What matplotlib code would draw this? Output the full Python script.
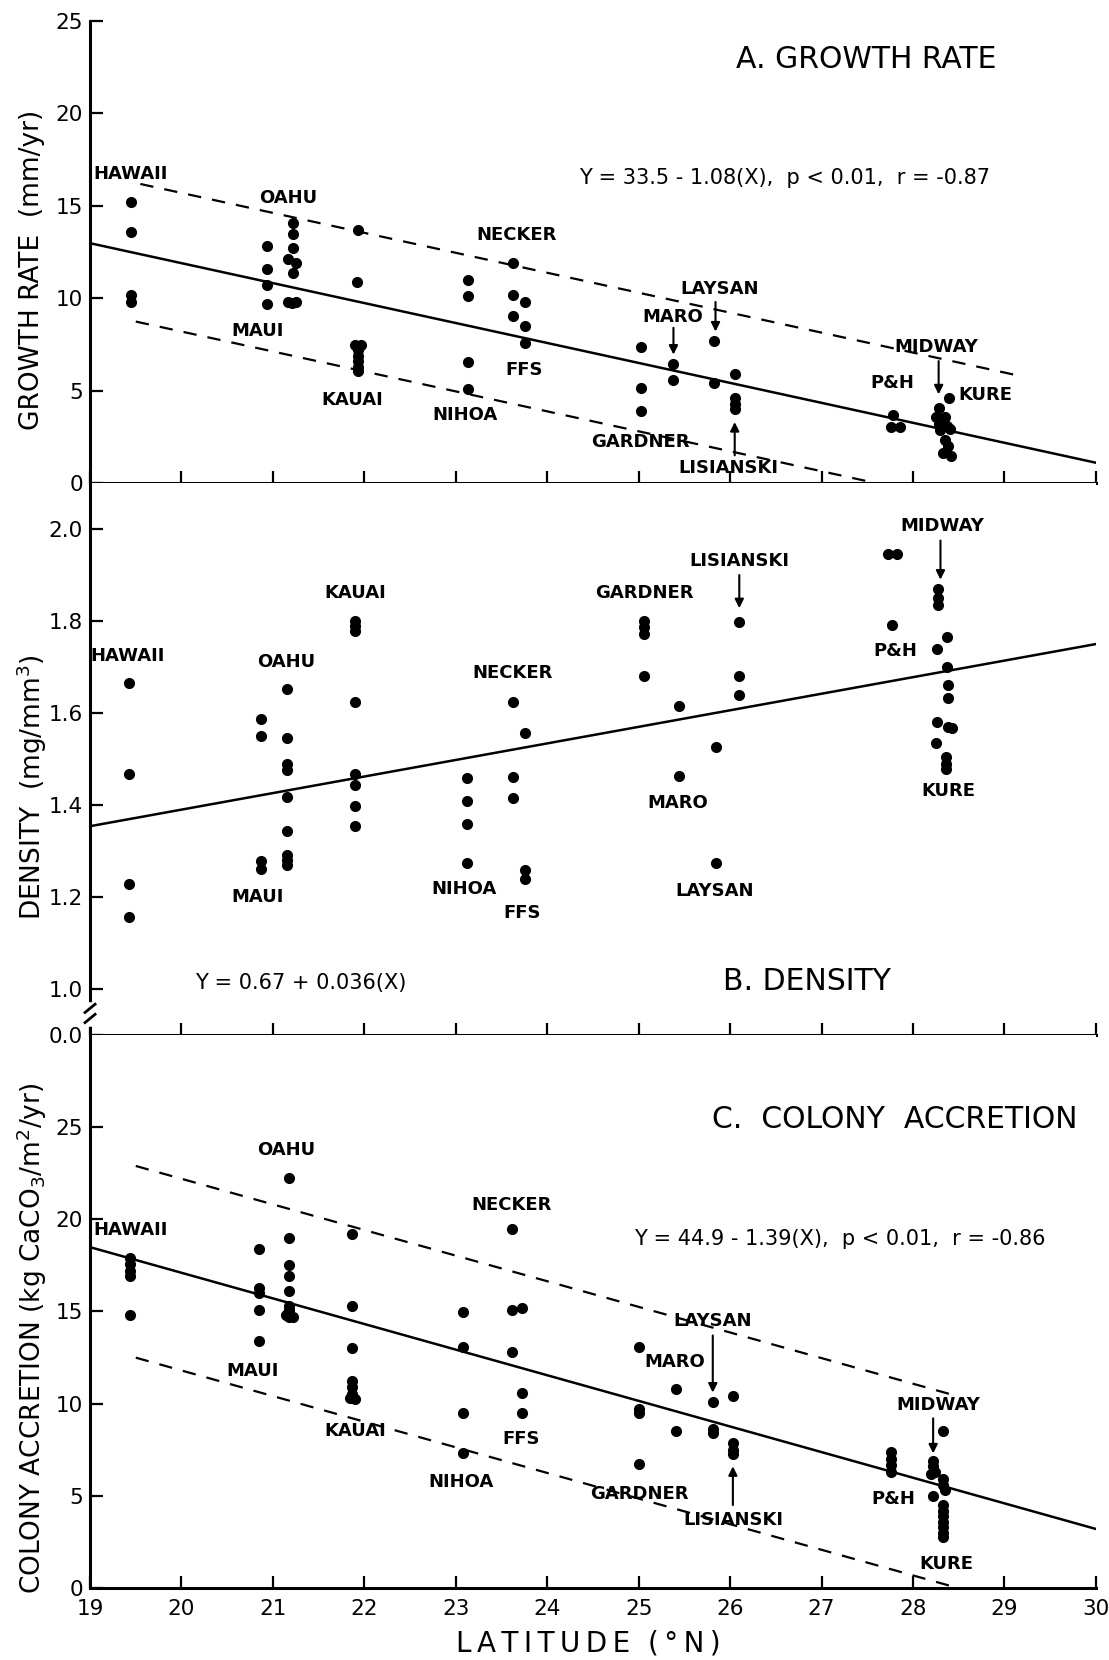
import matplotlib
matplotlib.use("Agg")
import matplotlib.pyplot as plt

# ---- data ----
# A. growth rate (mm/yr)
growth_lat = [19.45, 19.45, 19.45, 19.45,
              20.93, 20.93, 20.93, 20.93,
              21.22, 21.22, 21.22, 21.17, 21.25, 21.22, 21.17, 21.25, 21.21,
              21.93, 21.92, 21.90, 21.96, 21.93, 21.93, 21.93, 21.93, 21.93,
              23.13, 23.13, 23.13, 23.13,
              23.63, 23.63, 23.63,
              23.76, 23.76, 23.76,
              25.02, 25.02, 25.02,
              25.38, 25.38,
              25.82, 25.82,
              26.05, 26.05, 26.05, 26.05,
              27.78, 27.76, 27.86,
              28.28, 28.25, 28.28, 28.30,
              28.39, 28.35, 28.37, 28.40, 28.35, 28.38, 28.33, 28.42]
growth_val = [15.2, 13.6, 10.2, 9.8,
              12.85, 11.6, 10.7, 9.7,
              14.05, 13.5, 12.7, 12.1, 11.9, 11.35, 9.8, 9.8, 9.75,
              13.7, 10.9, 7.45, 7.45, 7.2, 6.9, 6.6, 6.3, 6.05,
              11.0, 10.1, 6.55, 5.07,
              11.9, 10.2, 9.06,
              9.8, 8.5, 7.6,
              7.36, 5.16, 3.9,
              6.46, 5.57,
              7.68, 5.4,
              5.9, 4.6, 4.3, 4.0,
              3.68, 3.03, 3.03,
              4.04, 3.6, 3.2, 2.85,
              4.58, 3.55, 3.1, 2.9, 2.35, 2.0, 1.6, 1.45]

# B. density (mg/mm3)
density_lat = [19.43, 19.43, 19.43, 19.43,
               20.87, 20.87, 20.87, 20.87,
               21.15, 21.15, 21.15, 21.15, 21.15, 21.15, 21.15, 21.15, 21.15,
               21.90, 21.90, 21.90, 21.90, 21.90, 21.90, 21.90, 21.90,
               23.12, 23.12, 23.12, 23.12,
               23.62, 23.62, 23.62,
               23.76, 23.76, 23.76,
               25.06, 25.06, 25.06, 25.06,
               25.44, 25.44,
               25.84, 25.84,
               26.10, 26.10, 26.10,
               27.73, 27.82, 27.77,
               28.27, 28.27, 28.27,
               28.37, 28.26, 28.37, 28.38, 28.38, 28.26, 28.38, 28.43, 28.25, 28.36, 28.36, 28.36]
density_val = [1.666, 1.468, 1.228, 1.157,
               1.586, 1.550, 1.279, 1.260,
               1.652, 1.546, 1.490, 1.476, 1.418, 1.343, 1.292, 1.280, 1.270,
               1.800, 1.790, 1.778, 1.625, 1.468, 1.444, 1.397, 1.354,
               1.459, 1.408, 1.358, 1.273,
               1.623, 1.462, 1.416,
               1.557, 1.259, 1.240,
               1.801, 1.787, 1.772, 1.681,
               1.615, 1.464,
               1.526, 1.275,
               1.797, 1.681, 1.640,
               1.945, 1.945, 1.792,
               1.870, 1.850, 1.835,
               1.765, 1.740, 1.700, 1.661, 1.633, 1.580, 1.570, 1.568, 1.534, 1.505, 1.490, 1.478]

# C. colony accretion (kg CaCO3/m2/yr)
accretion_lat = [19.44, 19.44, 19.44, 19.44, 19.44,
                 20.85, 20.85, 20.85, 20.85, 20.85,
                 21.18, 21.18, 21.18, 21.18, 21.18, 21.18, 21.18, 21.14, 21.22, 21.18,
                 21.87, 21.87, 21.87, 21.87, 21.87, 21.87, 21.84, 21.90,
                 23.08, 23.08, 23.08, 23.08,
                 23.61, 23.61, 23.61,
                 23.72, 23.72, 23.72,
                 25.00, 25.00, 25.00, 25.00,
                 25.41, 25.41,
                 25.81, 25.81, 25.81,
                 26.03, 26.03, 26.03, 26.03,
                 27.76, 27.76, 27.76, 27.76,
                 28.22, 28.22, 28.24, 28.20, 28.22, 28.33,
                 28.33, 28.33, 28.35, 28.33, 28.33, 28.33, 28.33, 28.33, 28.33, 28.33]
accretion_val = [17.9, 17.55, 17.2, 16.9, 14.8,
                 18.4, 16.3, 16.0, 15.1, 13.4,
                 22.25, 19.0, 17.5, 16.9, 16.1, 15.3, 15.1, 14.8, 14.7, 14.7,
                 19.2, 15.3, 13.0, 11.25, 10.9, 10.5, 10.3, 10.25,
                 14.96, 13.1, 9.5, 7.33,
                 19.5, 15.07, 12.8,
                 15.2, 10.6, 9.5,
                 13.07, 9.7, 9.48, 6.7,
                 10.78, 8.5,
                 10.07, 8.6, 8.4,
                 10.41, 7.84, 7.5, 7.25,
                 7.35, 7.0, 6.65, 6.3,
                 6.9, 6.6, 6.3, 6.2, 5.0, 8.5,
                 5.9, 5.6, 5.3, 4.5, 4.2, 3.9, 3.6, 3.3, 3.0, 2.75]

# regressions (intercept, slope) and band offsets of the dashed lines
growth_fit = (33.5, -1.08)
growth_band = (3.8, 3.7)
density_fit = (0.67, 0.036)
accretion_fit = (44.9, -1.39)
accretion_band = (5.1, 5.3)

lat_ticks = [19, 20, 21, 22, 23, 24, 25, 26, 27, 28, 29, 30]
growth_ticks = [0, 5, 10, 15, 20, 25]
density_ticks = [1.0, 1.2, 1.4, 1.6, 1.8, 2.0]
accretion_ticks = [0, 5, 10, 15, 20, 25]

FONT = "DejaVu Sans"
plt.rcParams["font.family"] = FONT

fig = plt.figure(figsize=(11.09, 16.60), dpi=100)
left, width = 0.0812, 0.907
axA = fig.add_axes([left, 0.709, width, 0.2783])
axB = fig.add_axes([left, 0.3765, width, 0.3325])
axC = fig.add_axes([left, 0.0434, width, 0.3331])


def style(ax):
    for s in ("top", "right"):
        ax.spines[s].set_visible(False)
    for s in ("left", "bottom"):
        ax.spines[s].set_linewidth(2.2)
    ax.set_xlim(19, 30)
    ax.set_xticks(lat_ticks)
    ax.tick_params(axis="both", direction="in", length=9, width=1.6,
                   labelsize=15.5, pad=5)
    ax.tick_params(axis="x", pad=8)


def line(ax, fit, x0, x1, off=0.0, dashed=False):
    a, b = fit
    xs = [x0, x1]
    ys = [a + b * x + off for x in xs]
    if dashed:
        ax.plot(xs, ys, color="k", lw=1.6, dashes=(6, 5))
    else:
        ax.plot(xs, ys, color="k", lw=1.8)


def dots(ax, xs, ys):
    ax.plot(xs, ys, "o", color="k", ms=7, mec="k", ls="none", zorder=3)


def labels(ax, items):
    for txt, x, y in items:
        ax.text(x, y, txt, ha="center", va="center", fontsize=13,
                fontweight="bold")


def arrows(ax, items):
    for x, y0, y1 in items:
        ax.annotate("", xy=(x, y1), xytext=(x, y0),
                    arrowprops=dict(arrowstyle="-|>", color="k", lw=1.5,
                                    mutation_scale=13, shrinkA=0, shrinkB=0))


# ---- A. growth rate ----
style(axA)
axA.set_ylim(0, 25)
axA.set_yticks(growth_ticks)
axA.tick_params(axis="x", labelbottom=False)
line(axA, growth_fit, 19, 30)
line(axA, growth_fit, 19.55, 29.1, growth_band[0], dashed=True)
lo_end = (growth_fit[0] - growth_band[1]) / -growth_fit[1]
line(axA, growth_fit, 19.5, lo_end, -growth_band[1], dashed=True)
dots(axA, growth_lat, growth_val)
labels(axA, [("HAWAII", 19.44, 16.7), ("OAHU", 21.17, 15.4),
             ("MAUI", 20.83, 8.25), ("KAUAI", 21.87, 4.5),
             ("NIHOA", 23.1, 3.7), ("NECKER", 23.66, 13.4),
             ("FFS", 23.75, 6.1), ("LAYSAN", 25.89, 10.5),
             ("MARO", 25.37, 9.0), ("GARDNER", 25.02, 2.2),
             ("LISIANSKI", 25.98, 0.8), ("P&H", 27.77, 5.4),
             ("MIDWAY", 28.26, 7.36), ("KURE", 28.79, 4.77)])
arrows(axA, [(25.38, 8.4, 6.95), (25.84, 9.8, 8.2),
             (26.05, 1.5, 3.3), (28.28, 6.6, 4.8)])
axA.text(27.49, 22.9, "A. GROWTH RATE", ha="center", va="center",
         fontsize=21.5)
axA.text(26.6, 16.5, "Y = 33.5 - 1.08(X),  p < 0.01,  r = -0.87",
         ha="center", va="center", fontsize=15)

# ---- B. density ----
style(axB)
axB.set_ylim(0.9, 2.1)
axB.set_yticks([0.9] + density_ticks)
axB.set_yticklabels(["0.0"] + ["%.1f" % t for t in density_ticks])
axB.tick_params(axis="x", labelbottom=False)
line(axB, density_fit, 19, 30)
dots(axB, density_lat, density_val)
labels(axB, [("HAWAII", 19.41, 1.724), ("OAHU", 21.14, 1.71),
             ("KAUAI", 21.9, 1.86), ("NECKER", 23.62, 1.687),
             ("MAUI", 20.83, 1.199), ("NIHOA", 23.09, 1.217),
             ("FFS", 23.73, 1.165), ("GARDNER", 25.06, 1.861),
             ("LISIANSKI", 26.1, 1.93), ("MIDWAY", 28.32, 2.006),
             ("P&H", 27.81, 1.735), ("MARO", 25.43, 1.404),
             ("KURE", 28.39, 1.43), ("LAYSAN", 25.83, 1.213)])
arrows(axB, [(26.1, 1.9, 1.828), (28.3, 1.975, 1.89)])
axB.text(26.84, 1.017, "B. DENSITY", ha="center", va="center",
         fontsize=21.5)
axB.text(21.3, 1.012, "Y = 0.67 + 0.036(X)", ha="center", va="center",
         fontsize=15)
# axis break marks
tr = axB.get_yaxis_transform()
axB.plot([0, 0], [0.925, 0.965], color="white", lw=4, transform=tr,
         clip_on=False, zorder=6)
for yb in (0.958, 0.936):
    axB.plot([-0.005, 0.005], [yb - 0.009, yb + 0.009], color="k", lw=2,
             transform=tr, clip_on=False, zorder=7)

# ---- C. colony accretion ----
style(axC)
axC.set_ylim(0, 30)
axC.set_yticks(accretion_ticks)
line(axC, accretion_fit, 19, 30)
line(axC, accretion_fit, 19.5, 28.4, accretion_band[0], dashed=True)
lo_end = (accretion_fit[0] - accretion_band[1]) / -accretion_fit[1]
line(axC, accretion_fit, 19.5, lo_end, -accretion_band[1], dashed=True)
dots(axC, accretion_lat, accretion_val)
labels(axC, [("HAWAII", 19.44, 19.4), ("OAHU", 21.14, 23.75),
             ("NECKER", 23.61, 20.8), ("MAUI", 20.78, 11.76),
             ("KAUAI", 21.9, 8.5), ("NIHOA", 23.06, 5.77),
             ("FFS", 23.71, 8.06), ("LAYSAN", 25.81, 14.5),
             ("MARO", 25.39, 12.24), ("GARDNER", 25.01, 5.1),
             ("LISIANSKI", 26.03, 3.7), ("MIDWAY", 28.28, 9.9),
             ("P&H", 27.78, 4.84), ("KURE", 28.37, 1.3)])
arrows(axC, [(25.81, 13.7, 10.6), (26.03, 4.5, 6.6), (28.22, 9.2, 7.3)])
axC.text(27.8, 25.4, "C.  COLONY  ACCRETION", ha="center", va="center",
         fontsize=21.5)
axC.text(27.2, 18.95, "Y = 44.9 - 1.39(X),  p < 0.01,  r = -0.86",
         ha="center", va="center", fontsize=15)

# axis titles
fig.text(0.029, 1 - 270 / 1660, "GROWTH RATE  (mm/yr)", rotation=90,
         ha="center", va="center", fontsize=19)
fig.text(0.029, 1 - 787 / 1660, r"DENSITY  (mg/mm$^3$)", rotation=90,
         ha="center", va="center", fontsize=19)
fig.text(0.029, 1 - 1338 / 1660, r"COLONY ACCRETION (kg CaCO$_3$/m$^2$/yr)",
         rotation=90, ha="center", va="center", fontsize=19)
fig.text(left + width * 5.45 / 11, 1 - 1643 / 1660,
         "\u2009".join("LATITUDE") + "  (\u2009°\u2009N\u2009)",
         ha="center", va="center", fontsize=20)

fig.savefig("out.png", dpi=100, facecolor="white")
